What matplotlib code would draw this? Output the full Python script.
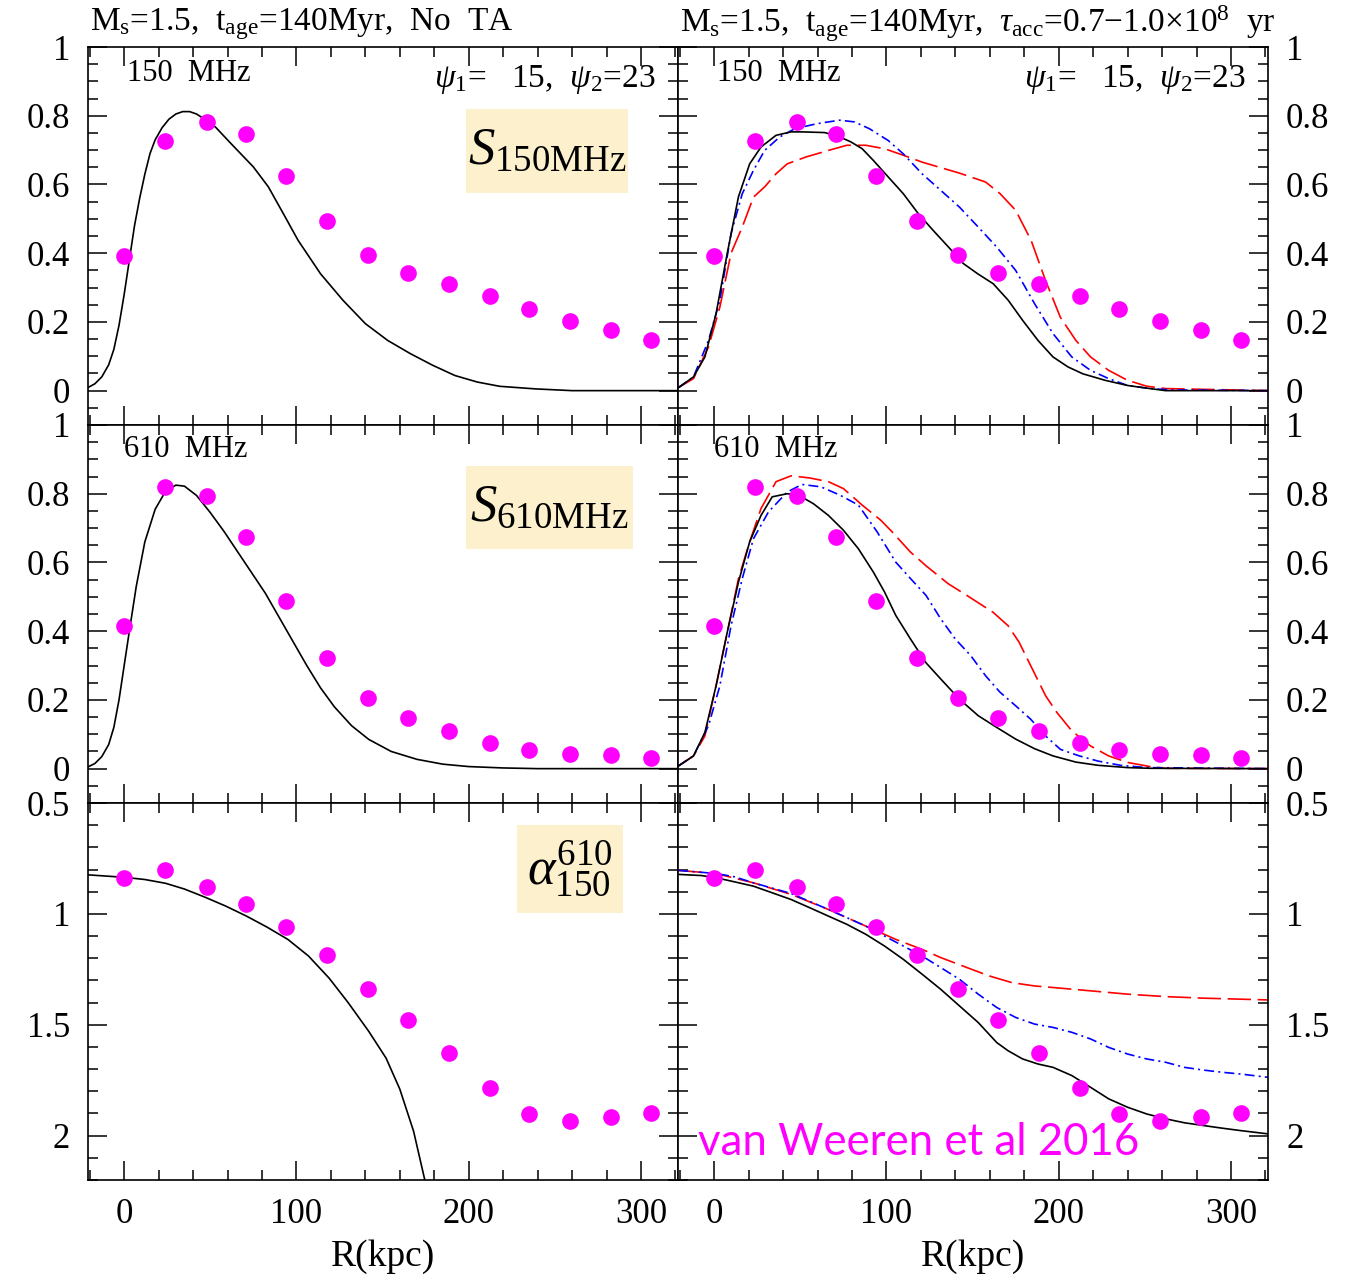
import matplotlib
matplotlib.use("Agg")
import matplotlib.pyplot as plt
from matplotlib.ticker import MultipleLocator, FuncFormatter
from matplotlib.patches import Rectangle

plt.rcParams['font.family'] = ['Liberation Serif', 'DejaVu Serif']
plt.rcParams['mathtext.fontset'] = 'custom'
plt.rcParams['mathtext.rm'] = 'Liberation Serif'
plt.rcParams['mathtext.it'] = 'Liberation Serif:italic'
plt.rcParams['mathtext.cal'] = 'Liberation Serif'

# observed points (van Weeren et al 2016)
R_obs = [0, 23.9, 47.8, 70.7, 93.9, 117.6, 141.3, 164.8, 188.5, 212.4, 235.2, 258.7, 282.6, 306.1]
S150_obs = [0.391, 0.726, 0.781, 0.746, 0.624, 0.493, 0.394, 0.342, 0.309, 0.275, 0.237, 0.203, 0.177, 0.146]
S610_obs = [0.416, 0.821, 0.792, 0.675, 0.488, 0.322, 0.206, 0.146, 0.109, 0.074, 0.054, 0.044, 0.039, 0.031]
alpha_obs = [0.839, 0.800, 0.878, 0.957, 1.061, 1.187, 1.340, 1.478, 1.627, 1.785, 1.903, 1.936, 1.918, 1.897]

# left column model (no TA)
R_s150_noTA = [-21, -17, -13, -9, -6, -3, 0, 3, 6, 9, 12, 15, 18, 22, 26, 30, 34, 38, 42, 46.7, 53, 62,
               75, 83.7, 92.4, 101, 114, 127, 140, 153, 166, 179, 192, 205, 218, 239, 260, 321.5]
S150_noTA = [0.009, 0.02, 0.04, 0.075, 0.12, 0.19, 0.28, 0.38, 0.48, 0.56, 0.63, 0.69, 0.73, 0.765,
             0.79, 0.805, 0.812, 0.812, 0.805, 0.79, 0.767, 0.719, 0.651, 0.593, 0.515, 0.437, 0.34,
             0.263, 0.195, 0.146, 0.108, 0.074, 0.044, 0.025, 0.0126, 0.005, 0.0, 0.0]
R_s610_noTA = [-21, -17, -13, -9, -6, -3, 0, 3, 7, 12, 18, 24, 30, 35, 42, 50, 58, 66, 74, 82, 90, 98,
               106, 114, 122, 132, 142, 155, 170, 185, 200, 220, 240, 321.5]
S610_noTA = [0.005, 0.015, 0.035, 0.07, 0.12, 0.2, 0.3, 0.4, 0.53, 0.66, 0.755, 0.807, 0.825, 0.822,
             0.795, 0.745, 0.69, 0.63, 0.57, 0.51, 0.44, 0.37, 0.3, 0.235, 0.18, 0.125, 0.085, 0.05,
             0.027, 0.013, 0.006, 0.002, 0.0, 0.0]
R_alpha_noTA = [-21, 0, 12, 24, 35, 47, 59, 71, 83, 95, 107, 119, 130, 142, 152, 160, 168, 176]
alpha_noTA = [0.824, 0.835, 0.845, 0.862, 0.888, 0.925, 0.965, 1.01, 1.06, 1.115, 1.19, 1.29, 1.40,
              1.53, 1.65, 1.79, 1.98, 2.25]

# right column models (with TA)
R_s150_k = [-20.7, -12, -5.4, 1.1, 7.6, 14.1, 20.6, 27.2, 35.9, 44.6, 51, 64, 70.7, 79.3, 85.9, 92.4,
            101, 109.8, 118.5, 127, 136, 144.6, 153, 162, 170.7, 179, 188, 196.7, 205.4, 214, 227,
            240, 253, 262, 321.5]
S150_k = [0.009, 0.04, 0.098, 0.224, 0.40, 0.564, 0.66, 0.709, 0.743, 0.753, 0.753, 0.751, 0.743, 0.724,
          0.704, 0.670, 0.622, 0.573, 0.515, 0.467, 0.418, 0.370, 0.340, 0.311, 0.263, 0.205, 0.146,
          0.098, 0.069, 0.049, 0.030, 0.015, 0.006, 0.0, 0.0]
R_s150_b = [-20.7, -12, -3.3, 3.3, 9.8, 16.3, 22.8, 29.3, 38, 46.7, 59.8, 72.8, 81.5, 90.2, 101, 109.8,
            120.7, 131.5, 142.4, 153.3, 164, 175, 186, 196.7, 207.6, 218.5, 229, 240, 253, 266, 321.5]
S150_b = [0.009, 0.04, 0.146, 0.263, 0.457, 0.573, 0.641, 0.699, 0.738, 0.762, 0.777, 0.787, 0.782,
          0.762, 0.728, 0.689, 0.631, 0.583, 0.534, 0.476, 0.418, 0.35, 0.253, 0.166, 0.098, 0.059,
          0.035, 0.015, 0.006, 0.002, 0.0]
R_s150_r = [-20.7, -12, -3.3, 3.3, 9.8, 16.3, 22.8, 29.3, 35.9, 42.4, 53.3, 66.3, 77, 88, 98.9, 109.8,
            120.7, 131.5, 142.4, 157.6, 166, 175, 184, 192.4, 201, 210, 218.5, 229, 240, 251, 262, 321.5]
S150_r = [0.009, 0.035, 0.127, 0.243, 0.40, 0.476, 0.563, 0.593, 0.631, 0.66, 0.68, 0.699, 0.714, 0.714,
          0.704, 0.685, 0.665, 0.649, 0.633, 0.607, 0.573, 0.525, 0.437, 0.32, 0.213, 0.146, 0.098,
          0.059, 0.03, 0.013, 0.006, 0.0]

R_s610_k = [-20.7, -12, -5.4, 1.1, 7.6, 14.1, 20.6, 27.2, 33.7, 42.4, 48.9, 57.6, 66.3, 75, 83.7, 92.4,
            98.9, 105.4, 114, 122.8, 131.5, 142.4, 153.3, 164, 175, 186, 196.7, 210, 222.8, 240, 253,
            321.5]
S610_k = [0.008, 0.037, 0.105, 0.241, 0.397, 0.543, 0.66, 0.737, 0.791, 0.80, 0.796, 0.771, 0.737,
          0.694, 0.64, 0.572, 0.514, 0.446, 0.377, 0.309, 0.261, 0.202, 0.154, 0.12, 0.086, 0.058,
          0.037, 0.019, 0.0097, 0.003, 0.001, 0.0]
R_s610_b = [-20.7, -12, -3.3, 3.3, 9.8, 16.3, 22.8, 31.5, 42.4, 51, 62, 73, 83.7, 94.6, 105.4, 114, 123,
            131.5, 140, 148.9, 157.6, 166, 175, 183.7, 192.4, 201, 212, 222.8, 235.8, 251, 321.5]
S610_b = [0.008, 0.037, 0.125, 0.241, 0.416, 0.553, 0.669, 0.747, 0.805, 0.827, 0.82, 0.796, 0.767,
          0.689, 0.601, 0.553, 0.504, 0.436, 0.377, 0.329, 0.27, 0.222, 0.183, 0.144, 0.095, 0.056,
          0.037, 0.022, 0.0097, 0.003, 0.0]
R_s610_r = [-20.7, -12, -5.4, 1.1, 7.6, 14.1, 20.6, 27.2, 35.9, 44.6, 55.4, 66.3, 75, 85.9, 96.7, 103.3,
            114, 122.8, 135.9, 146.7, 161.9, 170.6, 177, 183.7, 192.4, 199, 207.6, 218.5, 229, 240,
            253, 262, 321.5]
S610_r = [0.008, 0.037, 0.095, 0.241, 0.397, 0.553, 0.66, 0.757, 0.835, 0.852, 0.846, 0.835, 0.815,
          0.767, 0.723, 0.689, 0.63, 0.591, 0.538, 0.504, 0.455, 0.416, 0.368, 0.3, 0.212, 0.163, 0.11,
          0.066, 0.037, 0.018, 0.006, 0.001, 0.0]

R_alpha_k = [-20.7, -7.6, 1.1, 9.8, 22.8, 33.7, 44.6, 55.4, 66.3, 77, 88, 98.9, 109.8, 120.7, 131.5,
             142.4, 153.3, 164, 170.6, 179, 188, 196.7, 207.6, 218.5, 229, 240, 251, 262, 273, 283.7,
             294.6, 305.4, 321.5]
alpha_k = [0.822, 0.827, 0.837, 0.852, 0.875, 0.905, 0.935, 0.972, 1.01, 1.047, 1.092, 1.145, 1.205,
           1.272, 1.34, 1.415, 1.49, 1.58, 1.617, 1.654, 1.677, 1.692, 1.729, 1.782, 1.834, 1.872,
           1.902, 1.924, 1.942, 1.954, 1.966, 1.977, 1.992]
R_alpha_b = [-20.7, 1.1, 11.9, 22.8, 44.6, 66.3, 88, 109.8, 120.7, 131.5, 142.4, 153.3, 164, 175, 186,
             196.7, 207.6, 218.5, 229, 240, 251, 262, 273, 283.7, 294.6, 305.4, 321.5]
alpha_b = [0.804, 0.818, 0.833, 0.86, 0.908, 0.98, 1.055, 1.145, 1.19, 1.242, 1.295, 1.362, 1.422,
           1.467, 1.497, 1.512, 1.534, 1.564, 1.602, 1.632, 1.654, 1.669, 1.692, 1.704, 1.714, 1.722,
           1.737]
R_alpha_r = [-20.7, 1.1, 22.8, 44.6, 66.3, 88, 105.4, 120.7, 131.5, 146.7, 159.8, 172.8, 186, 196.7,
             218.5, 240, 262, 283.7, 321.5]
alpha_r = [0.804, 0.818, 0.86, 0.912, 0.98, 1.055, 1.115, 1.16, 1.197, 1.242, 1.28, 1.31, 1.325, 1.332,
           1.347, 1.362, 1.373, 1.38, 1.388]

W, H = 1345, 1276
fig = plt.figure(figsize=(W / 100, H / 100), dpi=100)

def px_axes(x0, y0, x1, y1):
    return fig.add_axes([x0 / W, 1 - y1 / H, (x1 - x0) / W, (y1 - y0) / H])

cols = [(88, 678), (678, 1268)]
rows = [(47, 425), (425, 803), (803, 1180)]
axes = [[px_axes(c[0], r[0], c[1], r[1]) for c in cols] for r in rows]

fmt = FuncFormatter(lambda v, p: '%g' % round(v, 3))
for i in range(3):
    for j in range(2):
        ax = axes[i][j]
        ax.set_xlim(-21, 321.5)
        if i < 2:
            ax.set_ylim(-0.1, 1.0)
            ax.yaxis.set_major_locator(MultipleLocator(0.2))
            ax.yaxis.set_minor_locator(MultipleLocator(0.05))
        else:
            ax.set_ylim(2.2, 0.5)
            ax.yaxis.set_major_locator(MultipleLocator(0.5))
            ax.yaxis.set_minor_locator(MultipleLocator(0.1))
        ax.xaxis.set_major_locator(MultipleLocator(100))
        ax.xaxis.set_minor_locator(MultipleLocator(20))
        ax.xaxis.set_major_formatter(fmt)
        ax.yaxis.set_major_formatter(fmt)
        for s in ax.spines.values():
            s.set_linewidth(1.2)
        ax.tick_params(which='both', direction='in', top=True, right=True, width=1.1,
                       labelsize=25, pad=13)
        ax.tick_params(which='major', length=14)
        ax.tick_params(which='minor', length=7)
        ax.tick_params(labelleft=(j == 0), labelright=(j == 1), labelbottom=(i == 2))
        if i == 2:
            ax.set_xlabel('R(kpc)', fontsize=27, labelpad=6)

mk = dict(ls='none', marker='o', color='#ff00ff', ms=12, mec='none', zorder=5)
dash_b = dict(color='#0000ff', lw=1.2, dashes=(6, 2.5, 1.2, 2.5))
dash_r = dict(color='#ff0000', lw=1.2, dashes=(14, 4))

ax = axes[0][0]
ax.plot(R_s150_noTA, S150_noTA, color='black', lw=1.2)
ax.plot(R_obs, S150_obs, **mk)
ax = axes[1][0]
ax.plot(R_s610_noTA, S610_noTA, color='black', lw=1.2)
ax.plot(R_obs, S610_obs, **mk)
ax = axes[2][0]
ax.plot(R_alpha_noTA, alpha_noTA, color='black', lw=1.2)
ax.plot(R_obs, alpha_obs, **mk)

ax = axes[0][1]
ax.plot(R_s150_r, S150_r, **dash_r)
ax.plot(R_s150_b, S150_b, **dash_b)
ax.plot(R_s150_k, S150_k, color='black', lw=1.2)
ax.plot(R_obs, S150_obs, **mk)
ax = axes[1][1]
ax.plot(R_s610_r, S610_r, **dash_r)
ax.plot(R_s610_b, S610_b, **dash_b)
ax.plot(R_s610_k, S610_k, color='black', lw=1.2)
ax.plot(R_obs, S610_obs, **mk)
ax = axes[2][1]
ax.plot(R_alpha_r, alpha_r, **dash_r)
ax.plot(R_alpha_b, alpha_b, **dash_b)
ax.plot(R_alpha_k, alpha_k, color='black', lw=1.2)
ax.plot(R_obs, alpha_obs, **mk)

# panel annotations
for j in range(2):
    axes[0][j].text(0.066, 0.93, '150  MHz', transform=axes[0][j].transAxes, fontsize=22,
                    ha='left', va='center')
    axes[1][j].text(0.061, 0.934, '610  MHz', transform=axes[1][j].transAxes, fontsize=22,
                    ha='left', va='center')
    axes[0][j].text(0.962, 0.915, r'$\psi_1$=   15,  $\psi_2$=23', transform=axes[0][j].transAxes,
                    fontsize=24, ha='right', va='center')

boxc = '#fdf0cd'
labels = [(axes[0][0], (0.641, 0.614, 0.274, 0.222), r'$S_{\mathrm{150MHz}}$'),
          (axes[1][0], (0.641, 0.672, 0.283, 0.220), r'$S_{\mathrm{610MHz}}$'),
          (axes[2][0], (0.727, 0.708, 0.180, 0.234), r'$\alpha^{610}_{150}$')]
for ax, (bx, by, bw, bh), txt in labels:
    ax.add_patch(Rectangle((bx, by), bw, bh, transform=ax.transAxes, facecolor=boxc,
                           edgecolor='none', zorder=1))
    ax.text(bx + bw / 2, by + bh / 2, txt, transform=ax.transAxes, fontsize=38,
            ha='center', va='center', zorder=2)

axes[2][1].text(0.034, 0.10, 'van Weeren et al 2016', transform=axes[2][1].transAxes,
                fontsize=31.5, color='#ff00ff', ha='left', va='center', zorder=6,
                family=['Liberation Sans Narrow', 'Lato', 'DejaVu Sans'])

fig.text(90 / W, 1 - 24 / H, r'M$_\mathrm{s}$=1.5,  t$_\mathrm{age}$=140Myr,  No  TA', fontsize=24,
         ha='left', va='center')
fig.text(680 / W, 1 - 24 / H,
         r'M$_\mathrm{s}$=1.5,  t$_\mathrm{age}$=140Myr,  $\tau_\mathrm{acc}$=0.7$-$1.0$\times$10$^8$  yr',
         fontsize=24, ha='left', va='center')

fig.savefig('out.png', dpi=100)
